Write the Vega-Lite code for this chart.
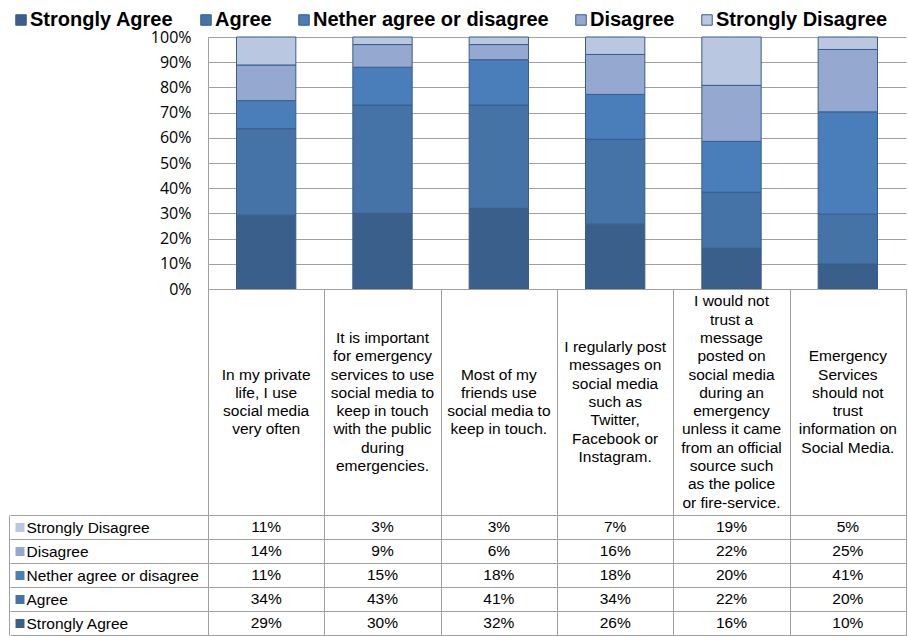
{
  "$schema": "https://vega.github.io/schema/vega-lite/v6.json",
  "padding": {"left": 8, "top": 10, "right": 0, "bottom": 0},
  "spacing": 0,
  "bounds": "flush",
  "config": {
    "view": {"stroke": "#a0a0a0", "strokeWidth": 1},
    "font": "Liberation Sans"
  },
  "data": {
    "values": [
      {"q": "In my private\nlife, I use\nsocial media\nvery often", "r": "Strongly Agree", "level": 1, "v": 0.29},
      {"q": "In my private\nlife, I use\nsocial media\nvery often", "r": "Agree", "level": 2, "v": 0.34},
      {"q": "In my private\nlife, I use\nsocial media\nvery often", "r": "Nether agree or disagree", "level": 3, "v": 0.11},
      {"q": "In my private\nlife, I use\nsocial media\nvery often", "r": "Disagree", "level": 4, "v": 0.14},
      {"q": "In my private\nlife, I use\nsocial media\nvery often", "r": "Strongly Disagree", "level": 5, "v": 0.11},
      {"q": "It is important\nfor emergency\nservices to use\nsocial media to\nkeep in touch\nwith the public\nduring\nemergencies.", "r": "Strongly Agree", "level": 1, "v": 0.30},
      {"q": "It is important\nfor emergency\nservices to use\nsocial media to\nkeep in touch\nwith the public\nduring\nemergencies.", "r": "Agree", "level": 2, "v": 0.43},
      {"q": "It is important\nfor emergency\nservices to use\nsocial media to\nkeep in touch\nwith the public\nduring\nemergencies.", "r": "Nether agree or disagree", "level": 3, "v": 0.15},
      {"q": "It is important\nfor emergency\nservices to use\nsocial media to\nkeep in touch\nwith the public\nduring\nemergencies.", "r": "Disagree", "level": 4, "v": 0.09},
      {"q": "It is important\nfor emergency\nservices to use\nsocial media to\nkeep in touch\nwith the public\nduring\nemergencies.", "r": "Strongly Disagree", "level": 5, "v": 0.03},
      {"q": "Most of my\nfriends use\nsocial media to\nkeep in touch.", "r": "Strongly Agree", "level": 1, "v": 0.32},
      {"q": "Most of my\nfriends use\nsocial media to\nkeep in touch.", "r": "Agree", "level": 2, "v": 0.41},
      {"q": "Most of my\nfriends use\nsocial media to\nkeep in touch.", "r": "Nether agree or disagree", "level": 3, "v": 0.18},
      {"q": "Most of my\nfriends use\nsocial media to\nkeep in touch.", "r": "Disagree", "level": 4, "v": 0.06},
      {"q": "Most of my\nfriends use\nsocial media to\nkeep in touch.", "r": "Strongly Disagree", "level": 5, "v": 0.03},
      {"q": "I regularly post\nmessages on\nsocial media\nsuch as\nTwitter,\nFacebook or\nInstagram.", "r": "Strongly Agree", "level": 1, "v": 0.26},
      {"q": "I regularly post\nmessages on\nsocial media\nsuch as\nTwitter,\nFacebook or\nInstagram.", "r": "Agree", "level": 2, "v": 0.34},
      {"q": "I regularly post\nmessages on\nsocial media\nsuch as\nTwitter,\nFacebook or\nInstagram.", "r": "Nether agree or disagree", "level": 3, "v": 0.18},
      {"q": "I regularly post\nmessages on\nsocial media\nsuch as\nTwitter,\nFacebook or\nInstagram.", "r": "Disagree", "level": 4, "v": 0.16},
      {"q": "I regularly post\nmessages on\nsocial media\nsuch as\nTwitter,\nFacebook or\nInstagram.", "r": "Strongly Disagree", "level": 5, "v": 0.07},
      {"q": "I would not\ntrust a\nmessage\nposted on\nsocial media\nduring an\nemergency\nunless it came\nfrom an official\nsource such\nas the police\nor fire-service.", "r": "Strongly Agree", "level": 1, "v": 0.16},
      {"q": "I would not\ntrust a\nmessage\nposted on\nsocial media\nduring an\nemergency\nunless it came\nfrom an official\nsource such\nas the police\nor fire-service.", "r": "Agree", "level": 2, "v": 0.22},
      {"q": "I would not\ntrust a\nmessage\nposted on\nsocial media\nduring an\nemergency\nunless it came\nfrom an official\nsource such\nas the police\nor fire-service.", "r": "Nether agree or disagree", "level": 3, "v": 0.20},
      {"q": "I would not\ntrust a\nmessage\nposted on\nsocial media\nduring an\nemergency\nunless it came\nfrom an official\nsource such\nas the police\nor fire-service.", "r": "Disagree", "level": 4, "v": 0.22},
      {"q": "I would not\ntrust a\nmessage\nposted on\nsocial media\nduring an\nemergency\nunless it came\nfrom an official\nsource such\nas the police\nor fire-service.", "r": "Strongly Disagree", "level": 5, "v": 0.19},
      {"q": "Emergency\nServices\nshould not\ntrust\ninformation on\nSocial Media.", "r": "Strongly Agree", "level": 1, "v": 0.10},
      {"q": "Emergency\nServices\nshould not\ntrust\ninformation on\nSocial Media.", "r": "Agree", "level": 2, "v": 0.20},
      {"q": "Emergency\nServices\nshould not\ntrust\ninformation on\nSocial Media.", "r": "Nether agree or disagree", "level": 3, "v": 0.41},
      {"q": "Emergency\nServices\nshould not\ntrust\ninformation on\nSocial Media.", "r": "Disagree", "level": 4, "v": 0.25},
      {"q": "Emergency\nServices\nshould not\ntrust\ninformation on\nSocial Media.", "r": "Strongly Disagree", "level": 5, "v": 0.05}
    ]
  },
  "resolve": {"scale": {"x": "independent", "y": "independent", "color": "independent"}},
  "vconcat": [
    {
      "width": 698,
      "height": 252,
      "view": {"stroke": null},
      "mark": {"type": "bar", "stroke": "#385d8a", "strokeWidth": 1},
      "encoding": {
        "x": {"field": "q", "type": "nominal", "sort": null, "axis": null,
              "scale": {"paddingInner": 0.49, "paddingOuter": 0.245}},
        "y": {"field": "v", "type": "quantitative", "stack": "normalize",
              "scale": {"domain": [0, 1]},
              "axis": {"title": null, "format": ".0%", "values": [0, 0.1, 0.2, 0.3, 0.4, 0.5, 0.6, 0.7, 0.8, 0.9, 1],
                       "grid": true, "gridColor": "#a0a0a0", "gridWidth": 1, "ticks": false,
                       "domain": true, "domainColor": "#a0a0a0", "labelPadding": 17,
                       "labelFont": "Open Sans", "labelFontSize": 16, "labelColor": "#000000"}},
        "color": {"field": "r", "type": "nominal",
                  "sort": ["Strongly Agree", "Agree", "Nether agree or disagree", "Disagree", "Strongly Disagree"],
                  "scale": {"domain": ["Strongly Agree", "Agree", "Nether agree or disagree", "Disagree", "Strongly Disagree"],
                            "range": ["#3a5f8b", "#4572a7", "#4a7ebb", "#95a9d0", "#b9c7e0"]},
                  "legend": {"orient": "none", "legendX": -197, "legendY": -27, "direction": "horizontal", "title": null,
                             "labelFont": "Liberation Sans", "labelFontSize": 20, "labelFontWeight": "bold", "labelColor": "#000000",
                             "symbolType": "square", "symbolSize": 110, "symbolStrokeColor": "#385d8a", "symbolStrokeWidth": 1,
                             "columnPadding": 22, "labelOffset": -1, "labelLimit": 400}},
        "order": {"field": "level", "type": "quantitative", "sort": "ascending"}
      }
    },
    {
      "width": 698,
      "height": 226,
      "transform": [{"filter": "datum.level == 1"}],
      "mark": {"type": "text", "lineBreak": "\n", "font": "Liberation Sans", "fontSize": 15.5, "lineHeight": 18.3,
               "baseline": "middle", "align": "center", "color": "#000000",
               "dy": {"expr": "-(length(split(datum.q, '\\n')) - 1) * 9.15"}},
      "encoding": {
        "x": {"field": "q", "type": "nominal", "sort": null, "scale": {"paddingInner": 0, "paddingOuter": 0},
              "axis": {"orient": "top", "title": null, "labels": false, "ticks": false, "domain": false,
                       "grid": true, "tickBand": "extent", "gridColor": "#a0a0a0"}},
        "text": {"field": "q", "type": "nominal"}
      }
    },
    {
      "width": 698,
      "height": 120,
      "resolve": {"scale": {"y": "independent"}, "axis": {"y": "independent"}},
      "layer": [
        {
          "mark": {"type": "text", "font": "Liberation Sans", "fontSize": 15.5, "baseline": "middle", "align": "center", "color": "#000000"},
          "encoding": {
            "x": {"field": "q", "type": "nominal", "sort": null, "scale": {"paddingInner": 0, "paddingOuter": 0},
                  "axis": {"orient": "top", "title": null, "labels": false, "ticks": false, "domain": false,
                           "grid": true, "tickBand": "extent", "gridColor": "#a0a0a0"}},
            "y": {"field": "r", "type": "nominal",
                  "scale": {"domain": ["Strongly Disagree", "Disagree", "Nether agree or disagree", "Agree", "Strongly Agree"], "paddingInner": 0, "paddingOuter": 0},
                  "axis": {"orient": "left", "title": null, "ticks": false, "domain": false, "grid": true, "tickBand": "extent",
                           "gridColor": "#a0a0a0", "labelAlign": "left", "labelPadding": 182, "labelFont": "Liberation Sans",
                           "labelFontSize": 15.5, "labelColor": "#000000", "labelLimit": 200}},
            "text": {"field": "v", "type": "quantitative", "format": ".0%"}
          }
        },
        {
          "mark": {"type": "text", "opacity": 0},
          "encoding": {
            "y": {"field": "r", "type": "nominal",
                  "scale": {"domain": ["Strongly Disagree", "Disagree", "Nether agree or disagree", "Agree", "Strongly Agree"], "paddingInner": 0, "paddingOuter": 0},
                  "axis": {"orient": "left", "title": null, "labels": false, "ticks": true, "tickSize": 198, "tickBand": "extent",
                           "tickColor": "#a0a0a0", "domain": false, "grid": false}}
          }
        },
        {
          "mark": {"type": "text", "opacity": 0},
          "encoding": {
            "y": {"field": "r", "type": "nominal",
                  "scale": {"domain": ["Strongly Disagree", "Disagree", "Nether agree or disagree", "Agree", "Strongly Agree"], "paddingInner": 0, "paddingOuter": 0},
                  "axis": {"orient": "left", "title": null, "labels": false, "ticks": true, "tickSize": 9, "tickWidth": 9,
                           "offset": 184, "domain": false, "grid": false,
                           "tickColor": {"condition": [
                             {"test": "datum.value == 'Strongly Agree'", "value": "#3a5f8b"},
                             {"test": "datum.value == 'Agree'", "value": "#4572a7"},
                             {"test": "datum.value == 'Nether agree or disagree'", "value": "#4a7ebb"},
                             {"test": "datum.value == 'Disagree'", "value": "#95a9d0"}
                           ], "value": "#b9c7e0"}}}
          }
        },
        {
          "mark": {"type": "text", "opacity": 0},
          "encoding": {
            "y": {"field": "r", "type": "nominal",
                  "scale": {"domain": ["Strongly Disagree", "Disagree", "Nether agree or disagree", "Agree", "Strongly Agree"], "paddingInner": 0, "paddingOuter": 0},
                  "axis": {"orient": "left", "title": null, "labels": false, "ticks": false, "offset": 199,
                           "domain": true, "domainColor": "#a0a0a0", "grid": false}}
          }
        }
      ]
    }
  ]
}
